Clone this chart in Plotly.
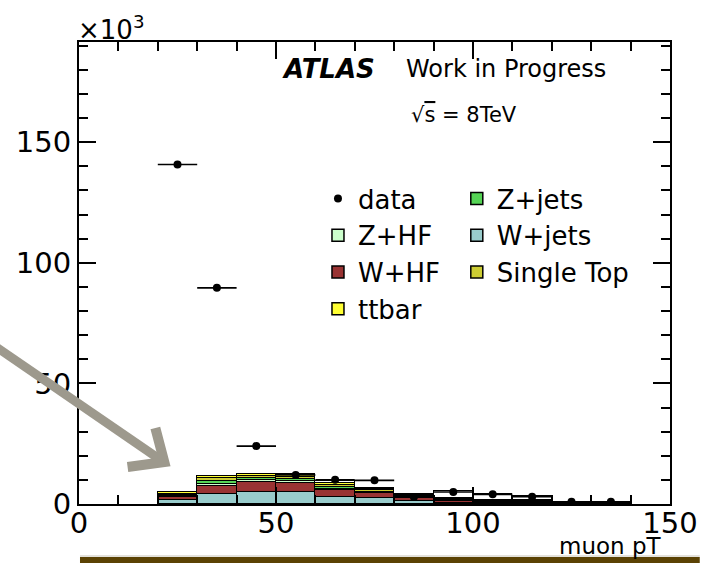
import plotly.graph_objects as go

# ---------------- data (values in units of 10^3 events) ----------------
bin_centers = [25, 35, 45, 55, 65, 75, 85, 95, 105, 115, 125, 135]
bin_width = 10
data_vals = [140.7, 89.6, 24.0, 12.0, 10.0, 9.8, 2.9, 5.0, 4.0, 3.0, 0.9, 0.9]

w_jets = [1.6, 4.1, 4.8, 4.8, 3.0, 2.3, 1.4, 0.6, 0.3, 0.3, 0.1, 0.1]
w_hf = [1.2, 3.3, 4.4, 4.0, 2.8, 2.1, 0.9, 0.5, 0.3, 0.3, 0.1, 0.1]
z_hf = [0.5, 1.0, 0.6, 0.6, 0.5, 0.3, 0.4, 0.3, 0.2, 0.2, 0.05, 0.05]
z_jets = [0.5, 1.2, 1.0, 0.8, 0.7, 0.4, 0.5, 0.4, 0.3, 0.3, 0.05, 0.05]
single_top = [0.5, 1.2, 0.9, 1.0, 0.8, 0.5, 0.5, 0.3, 0.2, 0.2, 0.05, 0.05]
ttbar = [0.5, 0.8, 0.7, 0.8, 0.7, 0.5, 0.6, 0.4, 0.2, 0.3, 0.05, 0.05]
other = [0.0, 0.0, 0.0, 0.4, 1.0, 0.5, 0.0, 3.0, 2.6, 1.7, 0.6, 0.6]

# (name, values, colour, legend, rank) -- stacked bottom to top
components = [
    ("W+jets", w_jets, "#99cccc", "legend2", 2),
    ("W+HF", w_hf, "#993333", "legend", 3),
    ("Z+HF", z_hf, "#ccffcc", "legend", 2),
    ("Z+jets", z_jets, "#55d455", "legend2", 1),
    ("Single Top", single_top, "#cccc33", "legend2", 3),
    ("ttbar", ttbar, "#ffff33", "legend", 4),
]

FONT = "DejaVu Sans"

fig = go.Figure()
for name, vals, col, leg, rank in components:
    fig.add_trace(go.Bar(
        x=bin_centers, y=vals, width=bin_width, name=name,
        marker=dict(color=col, line=dict(color="black", width=1.5)),
        legend=leg, legendrank=rank,
    ))
fig.add_trace(go.Bar(
    x=bin_centers, y=other, width=bin_width, name="other",
    marker=dict(color="white", line=dict(color="black", width=1.5)),
    showlegend=False,
))
fig.add_trace(go.Scatter(
    x=bin_centers, y=data_vals, mode="markers", name="data",
    marker=dict(color="black", size=8),
    error_x=dict(type="constant", value=bin_width / 2, width=0,
                 thickness=1.6, color="black"),
    legend="legend", legendrank=1,
))

# pixel -> paper helpers (plot area: x 79..675, y 42..504)
def px(x):
    return (x - 79) / 596.0


def py(y):
    return (504 - y) / 462.0


fig.update_layout(
    width=710, height=565,
    margin=dict(l=79, r=35, t=42, b=61),
    paper_bgcolor="white", plot_bgcolor="white",
    barmode="stack", bargap=0,
    font=dict(family=FONT, color="black", size=26),
    legend=dict(x=px(320), y=py(175), xanchor="left", yanchor="top",
                traceorder="normal", bgcolor="rgba(0,0,0,0)",
                font=dict(size=26, family=FONT), itemclick=False),
    legend2=dict(x=px(460), y=py(175), xanchor="left", yanchor="top",
                 traceorder="normal", bgcolor="rgba(0,0,0,0)",
                 font=dict(size=26, family=FONT), itemclick=False),
    xaxis=dict(range=[0, 150], tickmode="linear", tick0=0, dtick=50,
               ticks="inside", ticklen=17, tickwidth=1.5, tickcolor="black",
               minor=dict(ticks="inside", dtick=10, ticklen=9, tickwidth=1.5,
                          tickcolor="black", showgrid=False),
               showline=True, linecolor="black", linewidth=2, mirror="ticks",
               showgrid=False, zeroline=False, ticklabelstandoff=-8,
               tickfont=dict(size=29, family=FONT)),
    yaxis=dict(range=[0, 191.5], tickmode="linear", tick0=0, dtick=50,
               ticks="inside", ticklen=17, tickwidth=1.5, tickcolor="black",
               minor=dict(ticks="inside", dtick=10, ticklen=9, tickwidth=1.5,
                          tickcolor="black", showgrid=False),
               showline=True, linecolor="black", linewidth=2, mirror="ticks",
               showgrid=False, zeroline=False,
               tickfont=dict(size=29, family=FONT)),
)

annots = [
    dict(text="<b><i>ATLAS</i></b>", x=px(282), y=py(69), size=26,
         xanchor="left", yanchor="middle"),
    dict(text="Work in Progress", x=px(407), y=py(69), size=24,
         xanchor="left", yanchor="middle"),
    dict(text="√<span style='text-decoration:overline'>s</span> = 8TeV",
         x=px(412), y=py(115), size=21, xanchor="left", yanchor="middle"),
    dict(text="×10<sup>3</sup>", x=px(76), y=py(28), size=26,
         xanchor="left", yanchor="middle"),
    dict(text="muon pT", x=px(669), y=py(546), size=23,
         xanchor="right", yanchor="middle"),
]
for a in annots:
    fig.add_annotation(text=a["text"], x=a["x"], y=a["y"], xref="paper",
                       yref="paper", showarrow=False, xanchor=a["xanchor"],
                       yanchor=a["yanchor"],
                       font=dict(size=a["size"], family=FONT, color="black"))

# decorative slide elements: brown rule and grey arrow
fig.add_shape(type="rect", xref="paper", yref="paper",
              x0=px(80), x1=px(705), y0=py(557), y1=py(563),
              fillcolor="#5b4204", line=dict(width=0))
fig.add_shape(type="line", xref="paper", yref="paper",
              x0=px(80), x1=px(705), y0=py(556), y1=py(556),
              line=dict(color="#c8c4b8", width=1))
arrow_col = "#9d998d"
fig.add_shape(type="line", xref="paper", yref="paper",
              x0=px(-6), y0=py(346), x1=px(160), y1=py(459),
              line=dict(color=arrow_col, width=9))
fig.add_shape(type="path", xref="paper", yref="paper",
              path=f"M {px(156)} {py(428)} L {px(165)} {py(462)} L {px(128)} {py(467)}",
              line=dict(color=arrow_col, width=10))

fig.write_html("out.html")
